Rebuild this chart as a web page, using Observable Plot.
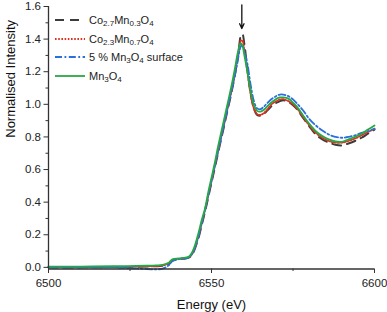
<!DOCTYPE html>
<html>
<head>
<meta charset="utf-8">
<script src="https://cdn.jsdelivr.net/npm/d3@7"></script>
<script src="https://cdn.jsdelivr.net/npm/@observablehq/plot@0.6"></script>
<style>
  html, body { margin: 0; padding: 0; background: #fff; }
  #wrap { position: relative; width: 387px; height: 312px; font-family: "Liberation Sans", Arial, sans-serif; }
  #legend { position: absolute; left: 55px; top: 11px; font-size: 11px; color: #222; }
  #legend .row { display: flex; align-items: center; height: 18.5px; white-space: nowrap; }
  #legend svg { margin-right: 4px; }
  #legend sub { font-size: 8px; vertical-align: -2px; line-height: 0; }
</style>
</head>
<body>
<div id="wrap"><div id="chart"></div><div id="legend"></div></div>
<script>
// Energy grid (eV)
const energy = [6500, 6510, 6520, 6525, 6530, 6533, 6535, 6537, 6538, 6540, 6542, 6543, 6544, 6545, 6546, 6547, 6548, 6549, 6550, 6551, 6552, 6553, 6554, 6555, 6556, 6557, 6558, 6558.5, 6559, 6559.5, 6560, 6561, 6562, 6563, 6564, 6565, 6566, 6567, 6568, 6569, 6570, 6571, 6572, 6573, 6574, 6575, 6576, 6578, 6580, 6582, 6584, 6586, 6588, 6590, 6592, 6594, 6596, 6598, 6600];

// Normalised intensity per sample
const co27 = [0.0, 0.0, 0.002, 0.003, 0.005, 0.007, 0.01, 0.02, 0.04, 0.05, 0.055, 0.06, 0.075, 0.12, 0.18, 0.26, 0.34, 0.43, 0.52, 0.61, 0.70, 0.79, 0.88, 0.97, 1.06, 1.16, 1.28, 1.36, 1.42, 1.43, 1.38, 1.22, 1.07, 0.975, 0.935, 0.93, 0.94, 0.96, 0.98, 1.0, 1.01, 1.02, 1.025, 1.02, 1.01, 0.995, 0.975, 0.92, 0.865, 0.815, 0.785, 0.765, 0.752, 0.748, 0.76, 0.775, 0.795, 0.82, 0.845];
const co23 = [0.002, 0.002, 0.003, 0.004, 0.006, 0.008, 0.012, 0.025, 0.045, 0.052, 0.057, 0.062, 0.08, 0.125, 0.19, 0.27, 0.35, 0.44, 0.53, 0.62, 0.71, 0.80, 0.89, 0.98, 1.07, 1.17, 1.28, 1.34, 1.39, 1.39, 1.34, 1.20, 1.06, 0.975, 0.94, 0.935, 0.945, 0.965, 0.99, 1.01, 1.02, 1.03, 1.032, 1.025, 1.015, 1.0, 0.98, 0.925, 0.87, 0.825, 0.795, 0.775, 0.765, 0.765, 0.775, 0.79, 0.81, 0.83, 0.85];
const surf5 = [0.0, 0.0, 0.0, -0.005, -0.01, -0.012, -0.008, 0.015, 0.04, 0.05, 0.055, 0.06, 0.08, 0.125, 0.19, 0.27, 0.35, 0.44, 0.53, 0.62, 0.71, 0.80, 0.89, 0.98, 1.07, 1.16, 1.26, 1.32, 1.355, 1.36, 1.33, 1.25, 1.12, 1.02, 0.975, 0.97, 0.985, 1.005, 1.025, 1.04, 1.052, 1.06, 1.06, 1.055, 1.045, 1.03, 1.01, 0.965, 0.91, 0.87, 0.84, 0.815, 0.80, 0.795, 0.80, 0.81, 0.825, 0.835, 0.85];
const mn3o4 = [0.005, 0.005, 0.007, 0.008, 0.01, 0.012, 0.015, 0.03, 0.05, 0.055, 0.06, 0.065, 0.09, 0.14, 0.21, 0.29, 0.36, 0.46, 0.55, 0.64, 0.74, 0.83, 0.92, 1.01, 1.10, 1.20, 1.31, 1.355, 1.375, 1.36, 1.31, 1.20, 1.08, 0.995, 0.96, 0.955, 0.965, 0.985, 1.005, 1.02, 1.035, 1.042, 1.043, 1.04, 1.03, 1.01, 0.99, 0.935, 0.88, 0.835, 0.805, 0.785, 0.772, 0.77, 0.785, 0.80, 0.82, 0.845, 0.87];

const seriesNames = ["Co2.7Mn0.3O4", "Co2.3Mn0.7O4", "5 % Mn3O4 surface", "Mn3O4"];
const seriesLabelsHtml = ["Co<sub>2.7</sub>Mn<sub>0.3</sub>O<sub>4</sub>", "Co<sub>2.3</sub>Mn<sub>0.7</sub>O<sub>4</sub>", "5 % Mn<sub>3</sub>O<sub>4</sub> surface", "Mn<sub>3</sub>O<sub>4</sub>"];
const seriesValues = [co27, co23, surf5, mn3o4];
const seriesColors = ["#3c3c3c", "#e0301e", "#2a6fdc", "#27a847"];
const seriesDash = ["9,6", "1.6,1.6", "7,2.5,1.8,2.5", null];

const xTicks = [6500, 6550, 6600];
const xMinor = [6525, 6575];
const yTicks = [0.0, 0.2, 0.4, 0.6, 0.8, 1.0, 1.2, 1.4, 1.6];
const yMinor = [0.1, 0.3, 0.5, 0.7, 0.9, 1.1, 1.3, 1.5];

const arrowE = 6559.3, arrowFrom = 1.61, arrowTo = 1.465;

const lineMarks = seriesValues.map((vals, i) =>
  Plot.line(energy.map((e, j) => ({e, v: vals[j]})), {
    x: "e", y: "v", stroke: seriesColors[i], strokeWidth: i === 0 ? 2 : 1.8,
    strokeDasharray: seriesDash[i], curve: "catmull-rom"
  })
);

const chart = Plot.plot({
  width: 387, height: 312,
  marginLeft: 48, marginRight: 13, marginTop: 6, marginBottom: 43.5,
  style: { fontFamily: "'Liberation Sans', Arial, sans-serif", fontSize: "11px", color: "#222", background: "#fff" },
  x: { domain: [6500, 6600] },
  y: { domain: [-0.01, 1.6] },
  marks: [
    ...lineMarks,
    Plot.arrow([{}], { x1: () => arrowE, x2: () => arrowE, y1: () => arrowFrom, y2: () => arrowTo, stroke: "#111", strokeWidth: 1.3, headLength: 6, headAngle: 50 }),
    Plot.ruleX([6500], { stroke: "#333", strokeWidth: 1.3 }),
    Plot.ruleY([-0.01], { stroke: "#333", strokeWidth: 1.3 }),
    Plot.axisX(xTicks, { tickSize: 4.5, tickPadding: 5, stroke: "#333", fontSize: 11.5, label: null, tickFormat: d => String(d) }),
    Plot.axisX(xMinor, { tickSize: 2.5, tickFormat: () => "", stroke: "#333", label: null }),
    Plot.axisY(yTicks, { tickSize: 4.5, tickPadding: 3, stroke: "#333", fontSize: 11.5, label: null, tickFormat: d => d.toFixed(1) }),
    Plot.axisY(yMinor, { tickSize: 2.5, tickFormat: () => "", stroke: "#333", label: null }),
    Plot.text(["Energy (eV)"], { frameAnchor: "bottom", dy: 40, fontSize: 13, fill: "#111", text: d => d }),
    Plot.text(["Normalised Intensity"], { frameAnchor: "left", dx: -38, rotate: -90, fontSize: 13, fill: "#111", text: d => d })
  ]
});
document.getElementById("chart").appendChild(chart);

const legend = document.getElementById("legend");
seriesNames.forEach((name, i) => {
  const row = document.createElement("div");
  row.className = "row";
  const dash = seriesDash[i] ? `stroke-dasharray="${seriesDash[i]}"` : "";
  row.innerHTML = `<svg width="30" height="6"><line x1="0" y1="3" x2="30" y2="3" stroke="${seriesColors[i]}" stroke-width="1.8" ${dash}/></svg><span>${seriesLabelsHtml[i]}</span>`;
  legend.appendChild(row);
});
</script>
</body>
</html>
